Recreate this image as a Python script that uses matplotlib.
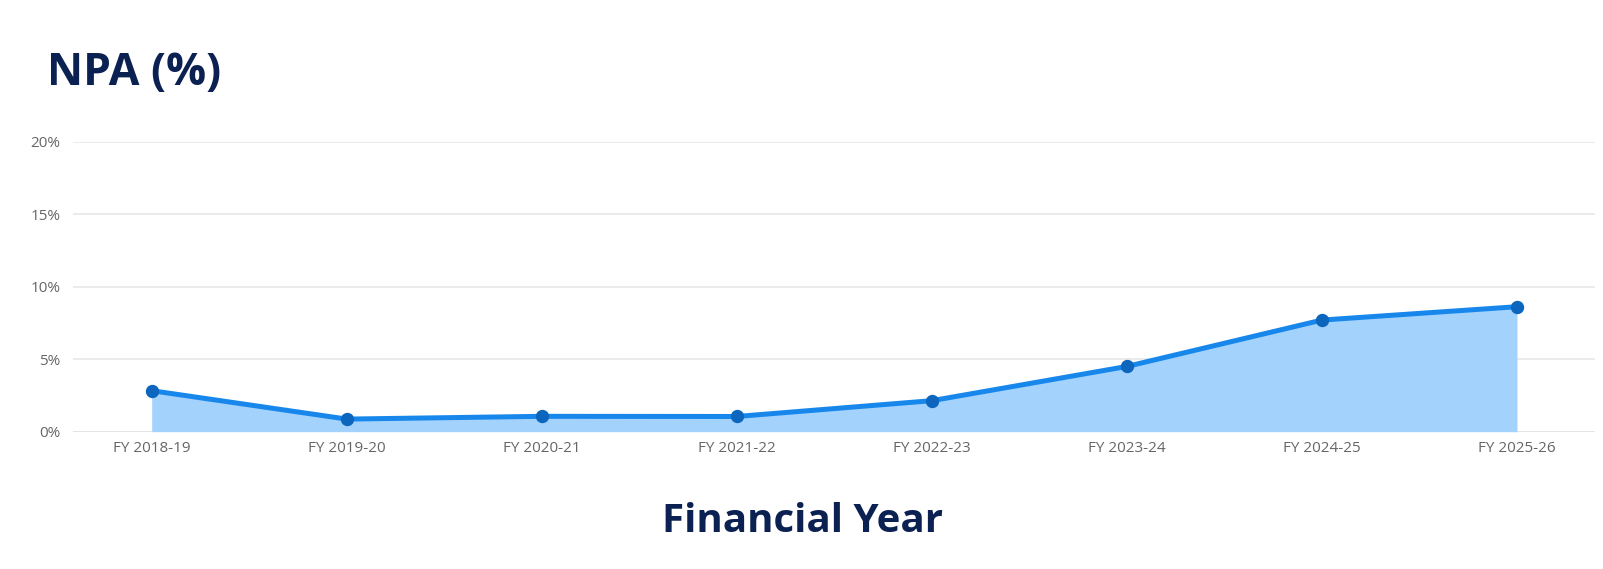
import matplotlib
matplotlib.use("Agg")
import matplotlib.pyplot as plt
from matplotlib.ticker import FuncFormatter

categories = ["FY 2018-19", "FY 2019-20", "FY 2020-21", "FY 2021-22",
              "FY 2022-23", "FY 2023-24", "FY 2024-25", "FY 2025-26"]
npa_values = [2.83, 0.87, 1.06, 1.05, 2.14, 4.5, 7.7, 8.62]
y_ticks = [0, 5, 10, 15, 20]

W, H = 1603, 569
fig = plt.figure(figsize=(W / 100, H / 100), dpi=100)
ax = fig.add_axes([72.7 / W, 1 - 431.7 / H, (1595 - 72.7) / W, (431.7 - 141.7) / H])

x = list(range(len(categories)))
ax.fill_between(x, npa_values, 0, color="#a3d2fd", linewidth=0, zorder=2)
ax.plot(x, npa_values, color="#1787ec", lw=3.6, zorder=3, solid_capstyle="round")
ax.plot(x, npa_values, linestyle="none", marker="o", ms=8.6,
        color="#0d66bd", zorder=4)

ax.set_xlim(-0.405, 7.4)
ax.set_ylim(0, 20)
ax.set_yticks(y_ticks)
ax.yaxis.set_major_formatter(FuncFormatter(lambda v, p: f"{int(v)}%"))
ax.set_xticks(x)
ax.set_xticklabels(categories)
ax.grid(axis="y", color="#e8e8e8", lw=1.2, zorder=0)
ax.set_axisbelow(True)
for s in ax.spines.values():
    s.set_visible(False)
ax.axhline(0, color="#e3e3e3", lw=1.2, zorder=1)
ax.tick_params(axis="both", length=0, labelcolor="#666666", labelsize=11)
ax.tick_params(axis="y", pad=9)
ax.tick_params(axis="x", pad=7)
for lab in ax.get_xticklabels() + ax.get_yticklabels():
    lab.set_fontfamily("Open Sans")

fig.text(47 / W, 1 - 85 / H, "NPA (%)", fontsize=32, fontweight="bold",
         color="#0b2152", family="Open Sans", ha="left", va="baseline")
fig.text(803 / W, 1 - 532 / H, "Financial Year", fontsize=29, fontweight="bold",
         color="#0b2152", family="Open Sans", ha="center", va="baseline")

fig.savefig("out.png", dpi=100)
